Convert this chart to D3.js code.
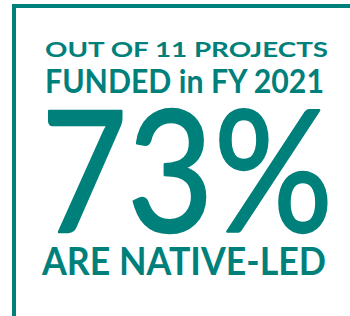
<!DOCTYPE html>
<html>
<head>
<meta charset="utf-8">
<script src="https://cdn.jsdelivr.net/npm/d3@7"></script>
<style>
  body { margin: 0; background: #fff; }
  text { font-family: "Lato", "Open Sans", sans-serif; fill: #00807b; }
</style>
</head>
<body>
<svg id="chart" width="350" height="316"></svg>
<script>
// figures shown on the card
const totalProjects = 11;
const fiscalYear = "FY 2021";
const nativeLedPct = 73;

const teal = "#00807b";

// text lines with their left/right edges and baseline
const lines = [
    { text: `OUT OF ${totalProjects} PROJECTS`, x0: 45, x1: 328, y: 57, size: 21, weight: 700, stroke: 0 },
    { text: `FUNDED in ${fiscalYear}`, x0: 45, x1: 324, y: 93, size: 33, weight: 700, stroke: 0 },
    { text: `${nativeLedPct}%`, x0: 41, x1: 333, y: 232, size: 168, weight: 400, stroke: 2.4 },
    { text: "ARE NATIVE-LED", x0: 42, x1: 326, y: 275, size: 39, weight: 700, stroke: 0 }
];

const svg = d3.select("#chart");

// frame: top rule and left rule
svg.append("rect")
    .attr("x", 12).attr("y", 4)
    .attr("width", 338).attr("height", 4)
    .attr("fill", teal);

svg.append("rect")
    .attr("x", 12).attr("y", 4)
    .attr("width", 4).attr("height", 312)
    .attr("fill", teal);

svg.selectAll(".line")
    .data(lines)
    .join("text")
    .attr("class", "line")
    .attr("x", d => d.x0)
    .attr("y", d => d.y)
    .attr("font-size", d => d.size)
    .attr("font-weight", d => d.weight)
    .attr("stroke", d => d.stroke ? teal : "none")
    .attr("stroke-width", d => d.stroke)
    .attr("stroke-linejoin", "round")
    .attr("textLength", d => d.x1 - d.x0)
    .attr("lengthAdjust", "spacingAndGlyphs")
    .text(d => d.text);
</script>
</body>
</html>
